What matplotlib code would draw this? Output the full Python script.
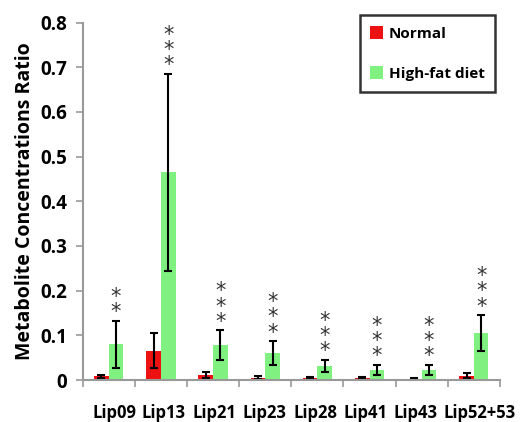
import numpy as np
import matplotlib
matplotlib.use("Agg")
import matplotlib.pyplot as plt
import matplotlib.transforms as mtransforms
from matplotlib.ticker import FuncFormatter

# dados
lipids = ["Lip09", "Lip13", "Lip21", "Lip23", "Lip28", "Lip41", "Lip43", "Lip52+53"]
normal = [0.008, 0.066, 0.012, 0.005, 0.005, 0.004, 0.003, 0.010]
normal_err = [0.004, 0.040, 0.007, 0.003, 0.002, 0.002, 0.002, 0.006]
hfd = [0.080, 0.465, 0.078, 0.060, 0.031, 0.023, 0.023, 0.105]
hfd_err = [0.053, 0.220, 0.033, 0.027, 0.014, 0.011, 0.011, 0.040]
stars = [2, 3, 3, 3, 3, 3, 3, 3]

plt.rcParams['font.family'] = ['Open Sans', 'DejaVu Sans']

fig = plt.figure(figsize=(5.22, 4.22), dpi=100)
ax = fig.add_axes([0.1584, 0.0995, 0.7994, 0.847])

x = np.arange(len(lipids))
w = 0.28
ax.bar(x - w/2, normal, w, color="#ee1111", label="Normal")
ax.bar(x + w/2, hfd, w, color="#80f080", label="High-fat diet")
ax.errorbar(x - w/2, normal, yerr=normal_err, fmt="none", ecolor="black",
            elinewidth=1.5, capsize=3, capthick=1.5)
ax.errorbar(x + w/2, hfd, yerr=hfd_err, fmt="none", ecolor="black",
            elinewidth=1.5, capsize=3, capthick=1.5)

# asteriscos de significancia
for i in range(len(lipids)):
    top = hfd[i] + hfd_err[i]
    ax.annotate("\n".join(["*"] * stars[i]), (x[i] + w/2, top), xytext=(0, -1),
                textcoords="offset points", ha="center", va="bottom",
                fontsize=15, linespacing=0.7, color="#333333",
                fontfamily="DejaVu Sans")

ax.set_xlim(-0.5, len(lipids) - 0.5)
ax.set_ylim(0, 0.8)
ax.set_yticks(np.arange(0, 0.81, 0.1))
ax.yaxis.set_major_formatter(FuncFormatter(lambda v, p: "0" if v == 0 else f"{v:.1f}"))
ax.set_xticks(x)
ax.set_xticklabels(lipids)
ax.set_xticks(np.arange(-0.5, len(lipids)), minor=True)
ax.tick_params(axis="x", which="major", length=0, pad=17, labelsize=12)
ax.tick_params(axis="x", which="minor", length=5, color="#999999", width=1.2)
ax.tick_params(axis="y", length=5, color="#999999", width=1.2, labelsize=13.5, pad=6)

# rotulos do eixo x ficam em fila, como no original (deslocamento em px)
desloc = [6, 3, 1, -1, -2, -4, -6.5, 6]
for lab, d in zip(ax.get_xticklabels(), desloc):
    lab.set_fontweight("bold")
    lab.set_transform(lab.get_transform() +
                      mtransforms.ScaledTranslation(d/100, 0, fig.dpi_scale_trans))
for lab in ax.get_yticklabels():
    lab.set_fontweight("bold")

for s in ["top", "right"]:
    ax.spines[s].set_visible(False)
for s in ["left", "bottom"]:
    ax.spines[s].set_color("#999999")
    ax.spines[s].set_linewidth(1.5)

ax.set_ylabel("Metabolite Concentrations Ratio", fontsize=14, fontweight="bold", labelpad=4)

leg = ax.legend(loc="upper right", bbox_to_anchor=(1.007, 1.042), fancybox=False,
                edgecolor="black", handlelength=0.8, handleheight=0.9,
                handletextpad=0.4, labelspacing=1.7, borderpad=0.7,
                prop={"weight": "bold", "size": 11})
leg.get_frame().set_linewidth(1.8)

fig.savefig("out.png", dpi=100)
